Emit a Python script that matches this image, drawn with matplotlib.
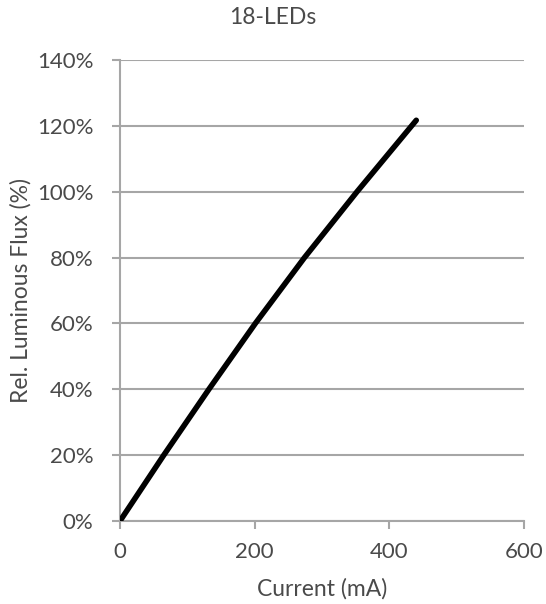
import numpy as np
import matplotlib
matplotlib.use("Agg")
import matplotlib.pyplot as plt
from matplotlib.ticker import FuncFormatter

plt.rcParams['font.family'] = ['Lato', 'DejaVu Sans']

# data
current = [0, 65, 132, 201, 274, 352, 440]          # mA
flux = [0, 20, 40, 60, 80, 100, 121.7]              # %
xticks = [0, 200, 400, 600]
yticks = [0, 20, 40, 60, 80, 100, 120, 140]

txt = '#4a4a4a'
grid = '#a6a6a6'

fig = plt.figure(figsize=(5.46, 6.04), dpi=100)
ax = fig.add_axes([120/546, 1 - 521/604, 404/546, 461/604])

ax.plot(current, flux, color='black', lw=4, solid_capstyle='round',
        solid_joinstyle='round', zorder=3)

ax.set_xlim(0, 600)
ax.set_ylim(0, 140)
ax.set_xticks(xticks)
ax.set_yticks(yticks)
ax.yaxis.set_major_formatter(FuncFormatter(lambda v, p: '%d%%' % v))

ax.grid(axis='y', color=grid, lw=1.5)
ax.set_axisbelow(True)
for s in ['top', 'right']:
    ax.spines[s].set_visible(False)
for s in ['left', 'bottom']:
    ax.spines[s].set_color(grid)
    ax.spines[s].set_linewidth(1.5)

ax.tick_params(axis='both', colors=grid, length=6, width=1.5, direction='out',
               labelcolor=txt, labelsize=16)
ax.tick_params(axis='y', pad=13)
ax.tick_params(axis='x', pad=9)

ax.set_xlabel('Current (mA)', fontsize=16.5, color=txt, labelpad=12)
ax.set_ylabel('Rel. Luminous Flux (%)', fontsize=16.5, color=txt, labelpad=4)
fig.text(273/546, 1 - 18/604, '18-LEDs', ha='center', va='center', fontsize=16.5,
         color=txt)

fig.savefig('out.png', dpi=100, facecolor='white')
